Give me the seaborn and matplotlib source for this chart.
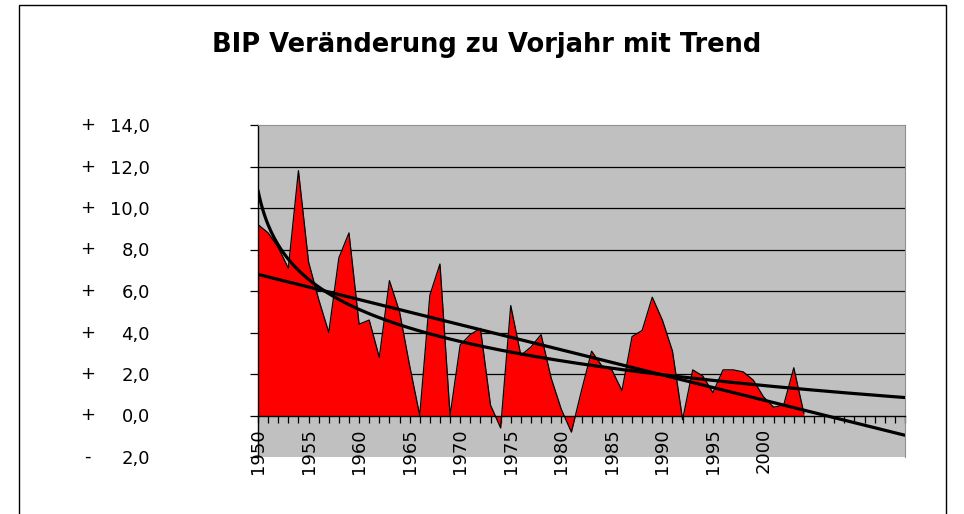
import matplotlib
matplotlib.use("Agg")
import matplotlib.pyplot as plt
import numpy as np
import pandas as pd
import seaborn as sns
from matplotlib.patches import Rectangle

# BIP-Veränderung zum Vorjahr (%)
years = list(range(1950, 2005))
bip = [9.2, 8.8, 8.1, 7.1, 11.8, 7.4, 5.6, 4.0, 7.6, 8.8,
       4.4, 4.6, 2.8, 6.5, 5.0, 2.4, 0.0, 5.8, 7.3, 0.0,
       3.4, 3.9, 4.2, 0.5, -0.6, 5.3, 2.9, 3.3, 3.9, 1.8,
       0.3, -0.8, 1.2, 3.1, 2.4, 2.2, 1.2, 3.8, 4.1, 5.7,
       4.6, 3.1, -0.2, 2.2, 1.9, 1.1, 2.2, 2.2, 2.1, 1.7,
       0.9, 0.4, 0.5, 2.3, 0.1]
forecast = 10          # Trend 10 Perioden vorwärts
yticks = [-2, 0, 2, 4, 6, 8, 10, 12, 14]
title = "BIP Veränderung zu Vorjahr mit Trend"

df = pd.DataFrame({"jahr": years, "bip": bip})
df["pos"] = np.arange(len(df))

# Trendlinien wie in Excel (x = 1..n)
n = len(df)
xk = np.arange(1, n + 1)
lin = np.polyfit(xk, df["bip"], 1)
logc = np.polyfit(np.log(xk), df["bip"], 1)
xt = np.linspace(1, n + forecast, 400)
trend = pd.DataFrame({
    "pos": xt - 1,
    "linear": np.polyval(lin, xt),
    "log": np.polyval(logc, np.log(xt)),
})

sns.set_style("white")
plt.rcParams["font.family"] = ["DejaVu Sans"]
plt.rcParams["text.color"] = "black"
plt.rcParams["xtick.color"] = "black"
plt.rcParams["ytick.color"] = "black"

fig = plt.figure(figsize=(9.64, 5.14), dpi=100)
ax = fig.add_axes([258 / 964, 1 - 457 / 514, 647 / 964, 332 / 514])
ax.set_facecolor("#c0c0c0")

ax.fill_between(df["pos"], df["bip"], 0, color="red", lw=0, zorder=2)
sns.lineplot(data=df, x="pos", y="bip", color="black", lw=0.9, ax=ax, zorder=3)
sns.lineplot(data=trend, x="pos", y="linear", color="black", lw=2.3, ax=ax, zorder=4)
sns.lineplot(data=trend, x="pos", y="log", color="black", lw=2.3, ax=ax, zorder=4)

ax.set_xlim(0, n - 1 + forecast)
ax.set_ylim(-2, 14)

# Gitternetz
for v in yticks[2:-1]:
    ax.axhline(v, color="black", lw=0.9, zorder=1)

# Achsen
for s in ["top", "right"]:
    ax.spines[s].set_color("#909090")
    ax.spines[s].set_linewidth(0.8)
ax.spines["left"].set_color("black")
ax.spines["left"].set_linewidth(1.0)
ax.spines["bottom"].set_position(("data", 0))
ax.spines["bottom"].set_color("black")
ax.spines["bottom"].set_linewidth(1.0)
ax.spines["bottom"].set_zorder(5)

xlab = [str(y) if (y - years[0]) % 5 == 0 and y <= years[-1] - 4 else ""
        for y in range(years[0], years[0] + n + forecast)]
ax.set_xticks(np.arange(n + forecast))
ax.set_xticklabels(xlab, rotation=90, fontsize=13, color="black")
ax.tick_params(axis="x", bottom=True, direction="out", length=5, width=0.9,
               color="black", pad=4)

ax.set_yticks(yticks)
ax.set_yticklabels([f"{abs(v):.1f}".replace(".", ",") for v in yticks],
                   fontsize=13, color="black")
ax.tick_params(axis="y", left=True, direction="out", length=5.8, width=0.9,
               color="black", pad=72)
for v in yticks:
    ax.text(-0.263, v, "+" if v >= 0 else "-", transform=ax.get_yaxis_transform(),
            ha="center", va="center", fontsize=13, color="black")

ax.set_xlabel("")
ax.set_ylabel("")

# Diagrammbereich-Rahmen
fig.patches.append(Rectangle((19 / 964, -0.02), 927 / 964, 1.0 - 5 / 514 + 0.02,
                             transform=fig.transFigure, fill=False,
                             edgecolor="black", lw=1.0))

fig.text(487 / 964, 1 - 45 / 514, title, ha="center", va="center",
         fontsize=18.5, fontweight="bold", color="black")

fig.savefig("out.png", dpi=100)
